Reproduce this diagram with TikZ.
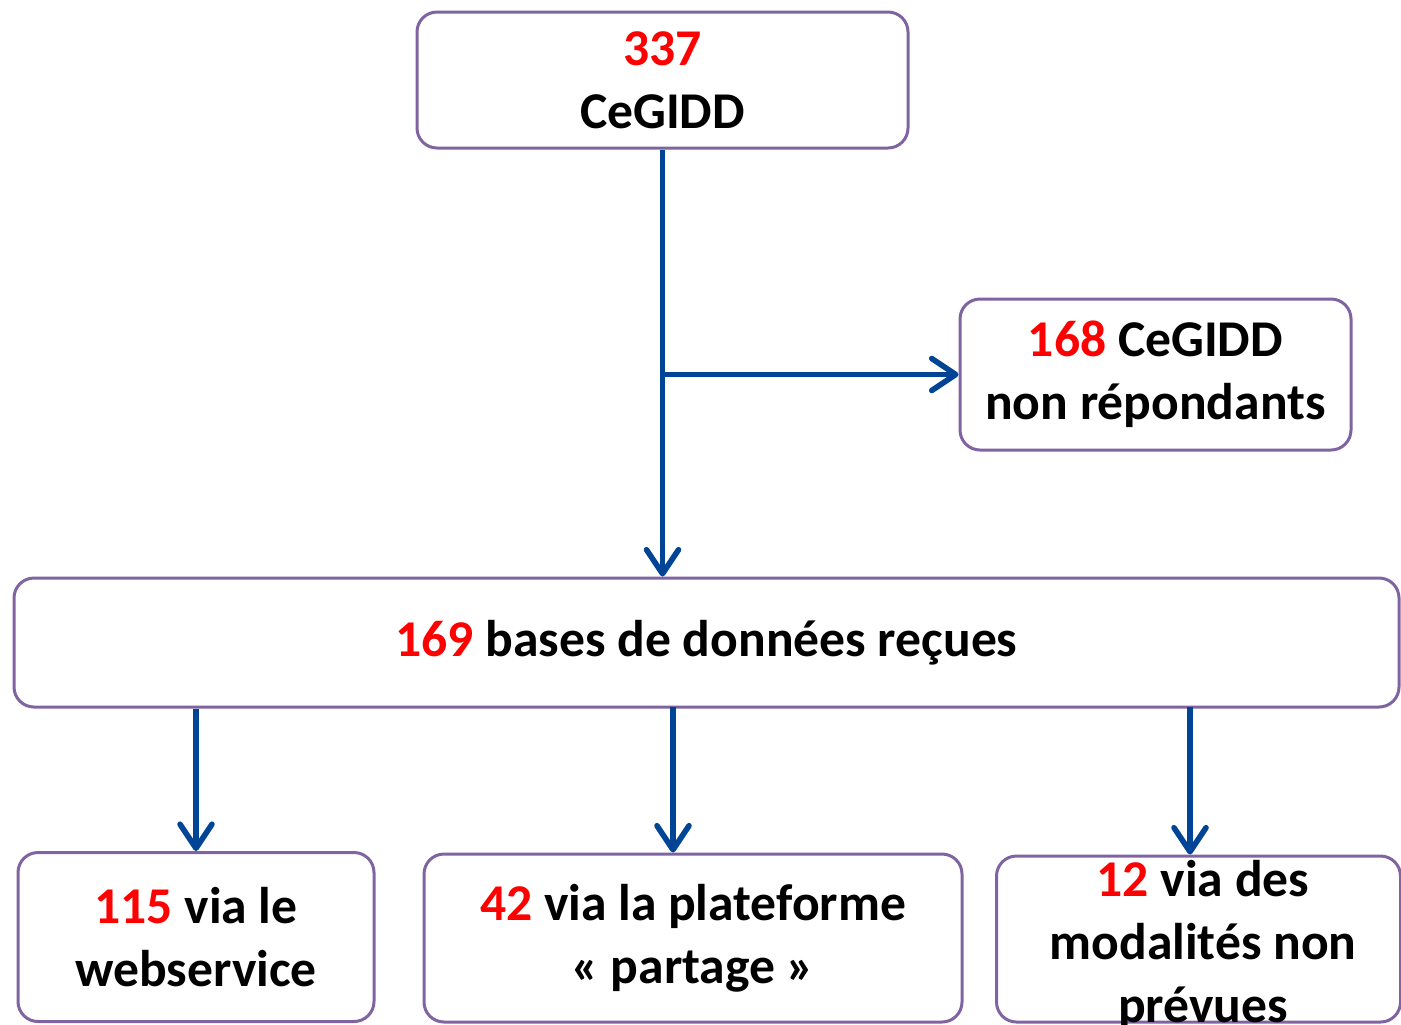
\documentclass[tikz,border=0pt]{standalone}
\usepackage{fontspec}
\setmainfont{Carlito}
\usetikzlibrary{arrows.meta}
\definecolor{boxline}{RGB}{128,100,162}
\definecolor{arrowblue}{RGB}{0,68,150}
\definecolor{numred}{RGB}{255,0,0}
\newcommand{\nb}[1]{\textcolor{numred}{#1}}
\begin{document}
\begin{tikzpicture}[x=0.5pt,y=-0.5pt,
        every node/.style={font=\fontsize{25.8}{31.5}\selectfont\bfseries,align=center},
        box/.style={draw=boxline,line width=1.5pt,rounded corners=10pt,inner sep=0pt},
        flow/.style={draw=arrowblue,line width=2.8pt,-{Straight Barb[length=12pt,width=16pt,round]}}]
            \clip (0,0) rectangle (1401,1024);
            \node[box,minimum width=245.5pt,minimum height=68pt] (T) at (662.5,80) {\nb{337}\\CeGIDD};
            \node[box,minimum width=195.5pt,minimum height=75.5pt] (N) at (1155.5,374.5) {\nb{168} CeGIDD\\non répondants};
            \node[box,minimum width=692.5pt,minimum height=64.5pt] (B) at (706.5,642.5) {\nb{169} bases de données reçues};
            \node[box,minimum width=178pt,minimum height=84.5pt] (W) at (196,937) {\nb{115} via le\\webservice};
            \node[box,minimum width=269pt,minimum height=84pt] (P) at (693,938) {\nb{42} via la plateforme\\«~partage~»};
            \node[box,minimum width=202pt,minimum height=83pt] (M) at (1198.5,939) {};
            \node (Mt) at (1203,945) {\nb{12} via des\\modalités non\\prévues};
            
            \coordinate (J) at (T.south |- N.west);
            \coordinate (p1) at (673,707);
            \coordinate (p2) at (1190,707);
            
            \draw [flow] (T.south) -- (T.south |- B.north);
            \draw [flow] (J) -- (N.west);
            \draw [flow] (B.south -| W) -- (W.north);
            \draw [flow] (p1) -- (p1 |- P.north);
            \draw [flow] (p2) -- (p2 |- M.north);
        \end{tikzpicture}
\end{document}
